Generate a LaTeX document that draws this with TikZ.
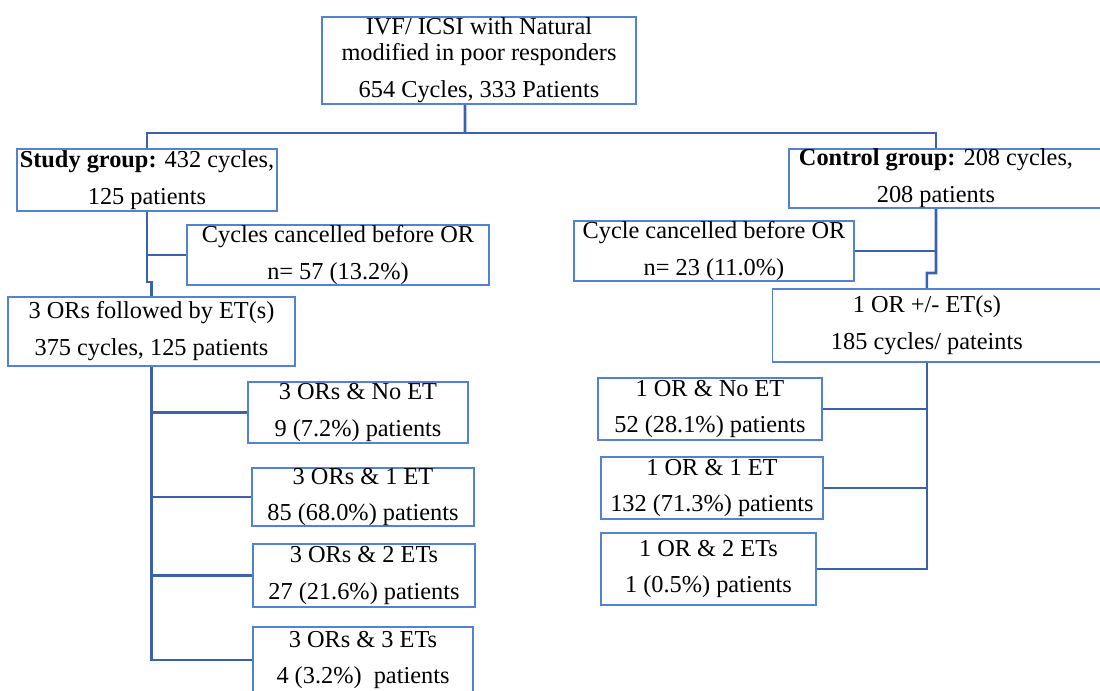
\documentclass[tikz,border=0pt]{standalone}
\usepackage{fontspec}
\setmainfont{Liberation Serif}
\definecolor{boxblue}{RGB}{82,130,212}
\definecolor{lineblue}{RGB}{60,98,175}
\tikzset{
  box/.style={draw=boxblue, line width=1.3pt, inner sep=0pt, align=center},
  link/.style={draw=lineblue, line width=1.8pt},
}
\begin{document}
\begin{tikzpicture}[x=0.025cm, y=-0.025cm, font=\fontsize{17.3}{26.3}\selectfont]
  \useasboundingbox (0,0) rectangle (1100,691);

  % Top box
  \node[box, minimum width=7.85cm, minimum height=2.175cm] (top) at (479,60.5)
    {IVF/ ICSI with Natural\\[-7.8pt] modified in poor responders\\ 654 Cycles, 333 Patients};

  % Groups
  \node[box, minimum width=6.5cm, minimum height=1.55cm] (study) at (147,180)
    {\textbf{Study group:} 432 cycles,\\ 125 patients};
  \node[box, minimum width=7.9cm, minimum height=1.475cm,
    label={[name=controltext, xshift=-0.275cm, align=center]center:{\textbf{Control group:} 208 cycles,\\ 208 patients}}]
    (control) at (947,178.5) {};

  % Cancelled cycles
  \node[box, minimum width=7.55cm, minimum height=1.4cm] (scancel) at (338,255)
    {Cycles cancelled before OR\\ n= 57 (13.2\%)};
  \node[box, minimum width=7cm, minimum height=1.35cm] (ccancel) at (714,251)
    {Cycle cancelled before OR\\ n= 23 (11.0\%)};

  % OR boxes
  \node[box, minimum width=7.175cm, minimum height=1.725cm] (sor) at (151.5,331.5)
    {3 ORs followed by ET(s)\\ 375 cycles, 125 patients};
  \node[box, minimum width=8.3cm, minimum height=1.825cm,
    label={[name=cortext, xshift=-0.29cm, align=center]center:{1 OR +/- ET(s)\\ 185 cycles/ pateints}}]
    (cor) at (938.5,325.5) {};

  % Study outcomes
  \node[box, minimum width=5.5cm, minimum height=1.525cm] (s1) at (358,412.5) {3 ORs \& No ET\\ 9 (7.2\%) patients};
  \node[box, minimum width=5.55cm, minimum height=1.45cm] (s2) at (363,497) {3 ORs \& 1 ET\\ 85 (68.0\%) patients};
  \node[box, minimum width=5.55cm, minimum height=1.575cm] (s3) at (364,575.5) {3 ORs \& 2 ETs\\ 27 (21.6\%) patients};
  \node[box, minimum width=5.5cm, minimum height=1.65cm] (s4) at (363,660) {3 ORs \& 3 ETs\\ 4 (3.2\%)\ \ patients};

  % Control outcomes
  \node[box, minimum width=5.6cm, minimum height=1.55cm] (c1) at (710,409) {1 OR \& No ET\\ 52 (28.1\%) patients};
  \node[box, minimum width=5.55cm, minimum height=1.55cm] (c2) at (712,488) {1 OR \& 1 ET\\ 132 (71.3\%) patients};
  \node[box, minimum width=5.375cm, minimum height=1.8cm] (c3) at (708.5,569) {1 OR \& 2 ETs\\ 1 (0.5\%) patients};

  % Coordinates
  \coordinate (split) at (465,133);
  \coordinate (sstep) at (147,282);
  \coordinate (cstep) at (936,273);

  % Split into groups
  \draw[link] ([xshift=-0.35cm]top.south) -- (split);
  \draw[link] (study.north) |- (split) -| (controltext |- control.north);

  % Study branch
  \draw[link] (study.south) -- (sstep) -- (sstep -| sor.north) -- (sor.north);
  \draw[link] (study.south |- scancel.west) -- (scancel.west);
  \draw[link] (sor.south) |- (s4.west);
  \foreach \n in {s1,s2,s3}
    \draw[link] (sor.south |- \n.west) -- (\n.west);

  % Control branch
  \draw[link] (controltext |- control.south) -- (cstep) -- (cstep -| cortext) -- (cortext |- cor.north);
  \draw[link] (controltext |- ccancel.east) -- (ccancel.east);
  \draw[link] (cortext |- cor.south) |- (c3.east);
  \foreach \n in {c1,c2}
    \draw[link] (cortext |- \n.east) -- (\n.east);
\end{tikzpicture}
\end{document}
